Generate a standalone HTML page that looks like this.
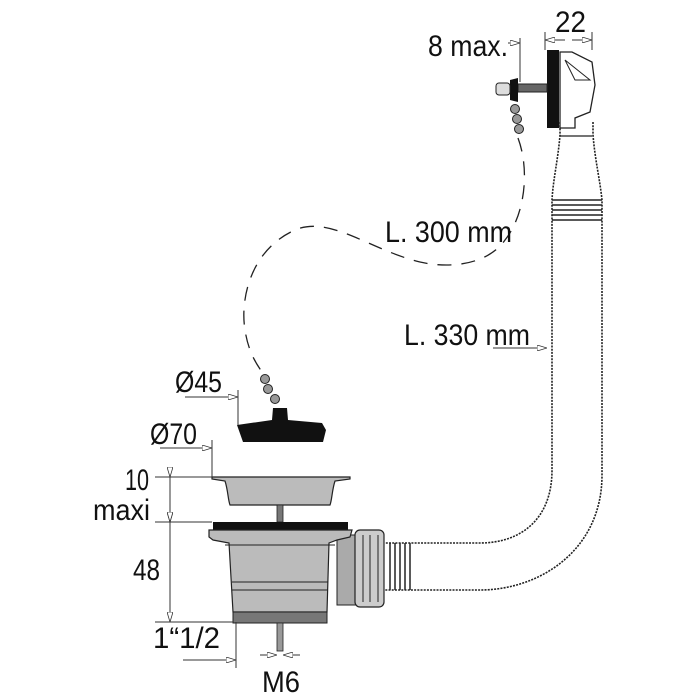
<!DOCTYPE html>
<html><head><meta charset="utf-8"><style>
html,body{margin:0;padding:0;background:#fff}
svg{display:block}
text{font-family:"Liberation Sans",sans-serif;font-size:30px;fill:#111}
</style></head><body>
<svg width="700" height="700" viewBox="0 0 700 700" xmlns="http://www.w3.org/2000/svg">
<defs><marker id="ar" markerWidth="10" markerHeight="6" refX="10" refY="3" orient="auto"><path d="M0,0 L10,3 L0,6 Z" fill="#fff" stroke="#333" stroke-width="0.8"/></marker></defs>
<g stroke="#222" fill="none" stroke-width="1.3">
<path d="M518,138 C530,170 525,215 505,240 C490,262 455,270 420,262 C370,250 330,215 295,230 C250,250 240,300 245,330 C248,350 255,362 262,372" stroke-dasharray="14,10"/>
<path d="M560,122 L560,135 C558,160 553,180 552,200 L552,470 C552,520 520,543 480,543 L385,543" stroke-dasharray="2,1.2" stroke-width="1.6"/>
<path d="M593,122 L593,135 C595,160 600,180 602,200 L602,475 C602,550 540,590 480,590 L385,590" stroke-dasharray="2,1.2" stroke-width="1.6"/>
<line x1="560" y1="136" x2="592" y2="136"/>
<g stroke-width="1.5"><line x1="552" y1="200" x2="602" y2="200"/><line x1="552" y1="205" x2="602" y2="205"/><line x1="552" y1="210" x2="602" y2="210"/><line x1="552" y1="215" x2="602" y2="215"/><line x1="552" y1="220" x2="602" y2="220"/></g>
<g stroke-width="1.5"><line x1="390" y1="543" x2="390" y2="590"/><line x1="395" y1="543" x2="395" y2="590"/><line x1="400" y1="543" x2="400" y2="590"/><line x1="405" y1="543" x2="405" y2="590"/><line x1="410" y1="543" x2="410" y2="590"/></g>
</g>
<path d="M560,52 L572,52 L592,62 L595,85 L590,112 L575,118 L575,128 L560,128 Z" fill="#fff" stroke="#222" stroke-width="1.3"/>
<path d="M565,60 L590,80 L575,80 Z" fill="none" stroke="#222" stroke-width="1"/>
<rect x="547" y="50" width="12" height="78" fill="#111"/>
<rect x="518" y="84" width="29" height="8" fill="#666" stroke="#222"/>
<path d="M510,80 L518,78 L518,102 L510,100 Z" fill="#111"/>
<rect x="496" y="83" width="14" height="12" rx="3" fill="#ddd" stroke="#222"/>
<circle cx="515" cy="109" r="4.5" fill="#999" stroke="#222"/>
<circle cx="517" cy="119" r="4.5" fill="#999" stroke="#222"/>
<circle cx="519" cy="129" r="4.5" fill="#999" stroke="#222"/>
<circle cx="265" cy="379" r="4.5" fill="#999" stroke="#222"/>
<circle cx="268" cy="389" r="4.5" fill="#999" stroke="#222"/>
<circle cx="275" cy="399" r="4.5" fill="#999" stroke="#222"/>
<path d="M273,408 L287,408 L288,420 L322,423 L326,430 L323,442 L243,442 L237,425 L272,420 Z" fill="#111"/>
<path d="M212,477 L350,477 L350,479 L335,481 C332,490 332,500 330,505 L230,505 C228,500 228,490 225,481 L212,479 Z" fill="#bbb" stroke="#222" stroke-width="1.2"/>
<rect x="277" y="505" width="6" height="17" fill="#777" stroke="#222" stroke-width="0.8"/>
<rect x="337" y="535" width="20" height="70" fill="#aaa" stroke="#222"/>
<rect x="213" y="522" width="135" height="8" fill="#111"/>
<path d="M209,530 L352,530 L350,537 L337,540 L329,543 L327,612 L233,612 L229,543 L213,540 L209,537 Z" fill="#bbb" stroke="#222" stroke-width="1.2"/>
<line x1="225" y1="545" x2="335" y2="545" stroke="#222"/>
<line x1="232" y1="582" x2="328" y2="582" stroke="#222"/>
<line x1="232" y1="590" x2="328" y2="590" stroke="#222"/>
<rect x="233" y="612" width="94" height="11" fill="#777" stroke="#222"/>
<rect x="277" y="623" width="6" height="28" fill="#999" stroke="#222" stroke-width="0.8"/>
<rect x="355" y="530" width="29" height="77" rx="5" fill="#ccc" stroke="#222" stroke-width="1.2"/>
<g stroke="#222" stroke-width="1"><line x1="363" y1="535" x2="363" y2="602"/><line x1="370" y1="535" x2="370" y2="602"/><line x1="378" y1="535" x2="378" y2="602"/></g>
<g stroke="#333" stroke-width="1" fill="none">
<line x1="155" y1="477" x2="212" y2="477"/><line x1="155" y1="522" x2="212" y2="522"/><line x1="155" y1="622" x2="233" y2="622"/>
<line x1="170" y1="477" x2="170" y2="522" marker-start="url(#ar)" marker-end="url(#ar)"/>
<line x1="170" y1="522" x2="170" y2="622" marker-start="url(#ar)" marker-end="url(#ar)"/>
<line x1="212" y1="440" x2="212" y2="477"/><line x1="160" y1="448" x2="212" y2="448" marker-end="url(#ar)"/>
<line x1="238" y1="390" x2="238" y2="425"/><line x1="185" y1="397" x2="238" y2="397" marker-end="url(#ar)"/>
<line x1="236" y1="622" x2="236" y2="668"/><line x1="183" y1="660" x2="236" y2="660" marker-end="url(#ar)"/>
<line x1="260" y1="655" x2="277" y2="655" marker-end="url(#ar)"/><line x1="300" y1="655" x2="283" y2="655" marker-end="url(#ar)"/>
<line x1="520" y1="38" x2="520" y2="82"/><line x1="508" y1="43" x2="520" y2="43" marker-end="url(#ar)"/>
<line x1="545" y1="32" x2="545" y2="50"/><line x1="592" y1="32" x2="592" y2="50"/>
<line x1="565" y1="40" x2="545" y2="40" marker-end="url(#ar)"/><line x1="572" y1="40" x2="592" y2="40" marker-end="url(#ar)"/>
<line x1="493" y1="348" x2="547" y2="348" marker-end="url(#ar)"/>
</g>
<text x="428" y="56" textLength="80" lengthAdjust="spacingAndGlyphs">8 max.</text>
<text x="555" y="32" textLength="31" lengthAdjust="spacingAndGlyphs">22</text>
<text x="385" y="242" textLength="127" lengthAdjust="spacingAndGlyphs">L. 300 mm</text>
<text x="404" y="345" textLength="126" lengthAdjust="spacingAndGlyphs">L. 330 mm</text>
<text x="175" y="392" textLength="47" lengthAdjust="spacingAndGlyphs">Ø45</text>
<text x="150" y="444" textLength="47" lengthAdjust="spacingAndGlyphs">Ø70</text>
<text x="125" y="490" textLength="24" lengthAdjust="spacingAndGlyphs">10</text>
<text x="93" y="520" textLength="57" lengthAdjust="spacingAndGlyphs">maxi</text>
<text x="133" y="580" textLength="27" lengthAdjust="spacingAndGlyphs">48</text>
<text x="153" y="648" textLength="67" lengthAdjust="spacingAndGlyphs">1“1/2</text>
<text x="262" y="692" textLength="38" lengthAdjust="spacingAndGlyphs">M6</text>
</svg>
</body></html>
